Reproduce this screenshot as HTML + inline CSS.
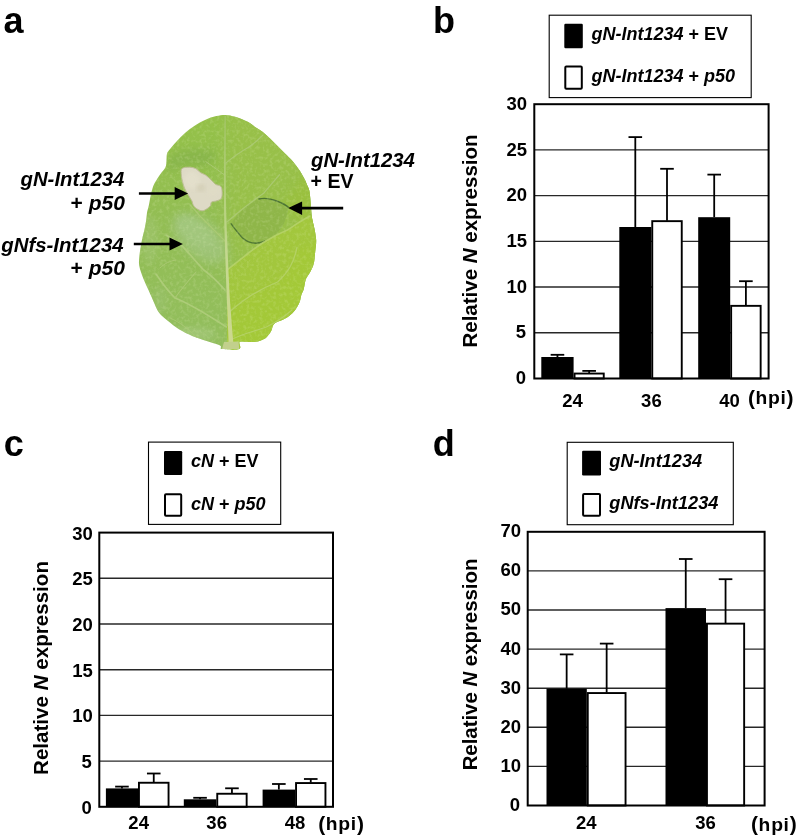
<!DOCTYPE html>
<html><head><meta charset="utf-8"><style>
html,body{margin:0;padding:0;background:#fff;}
svg{display:block;will-change:transform;font-family:"Liberation Sans", sans-serif;font-weight:bold;}
</style></head><body>
<svg width="799" height="836" viewBox="0 0 799 836">
<rect width="799" height="836" fill="#fff"/>
<text x="3.60" y="32.70" font-size="36" text-anchor="start" >a</text>
<text x="432.90" y="32.70" font-size="36" text-anchor="start" >b</text>
<text x="3.80" y="455.90" font-size="36" text-anchor="start" >c</text>
<text x="432.70" y="455.80" font-size="36" text-anchor="start" >d</text>
<defs>
<clipPath id="lc"><path d="M225.7,114.9 C228.8,115.0 231.4,115.7 235.1,116.8 C238.8,117.9 244.3,120.1 247.6,121.8 C250.9,123.5 252.5,125.2 255.0,126.9 C257.5,128.6 260.0,129.9 262.5,131.8 C265.0,133.7 267.5,136.1 270.0,138.5 C272.5,140.9 275.0,143.5 277.5,146.0 C280.0,148.5 282.5,151.0 285.0,153.5 C287.5,156.0 290.1,158.2 292.5,161.0 C294.9,163.8 297.3,167.0 299.3,170.0 C301.3,173.0 303.2,176.4 304.5,179.0 C305.8,181.6 306.5,183.4 307.3,185.5 C308.1,187.6 308.9,188.1 309.5,191.5 C310.1,194.9 310.5,201.6 310.9,205.9 C311.3,210.2 311.3,213.6 311.9,217.4 C312.5,221.2 313.8,225.1 314.5,228.9 C315.2,232.7 316.1,236.5 316.2,240.3 C316.3,244.1 315.6,248.0 315.2,251.8 C314.8,255.6 314.6,259.9 313.8,263.3 C313.0,266.7 311.5,269.4 310.2,272.0 C308.9,274.6 307.0,276.2 305.9,279.1 C304.8,282.0 304.5,286.6 303.7,289.2 C302.9,291.8 302.0,292.9 301.3,295.0 C300.6,297.1 300.6,299.5 299.6,302.0 C298.6,304.5 296.9,307.6 295.2,309.9 C293.4,312.2 291.3,314.3 289.1,316.0 C286.9,317.7 284.3,318.9 282.1,320.0 C279.9,321.1 277.4,321.7 275.9,322.6 C274.4,323.6 273.6,324.4 272.9,325.7 C272.2,326.9 272.3,328.7 271.6,330.1 C270.9,331.6 270.1,332.9 268.9,334.4 C267.7,335.8 266.4,337.6 264.5,338.8 C262.6,340.0 260.2,341.0 257.5,341.5 C254.8,342.0 251.0,341.9 248.0,342.0 C245.0,342.1 241.1,340.8 239.6,342.0 C238.1,343.2 242.1,347.8 239.2,349.0 C236.3,350.2 225.0,349.4 222.0,349.0 C219.0,348.6 221.7,347.2 221.0,346.5 C220.3,345.8 220.0,345.4 217.6,344.5 C215.2,343.6 210.7,342.4 206.6,341.0 C202.5,339.6 197.4,338.1 192.8,336.2 C188.2,334.2 183.1,331.8 179.0,329.3 C174.9,326.8 171.3,323.9 168.0,321.1 C164.7,318.4 161.4,315.8 159.1,312.8 C156.8,309.8 156.0,306.9 154.3,303.2 C152.6,299.5 150.6,294.9 148.8,290.8 C147.0,286.7 144.9,282.5 143.3,278.4 C141.7,274.3 140.0,269.6 139.3,266.0 C138.6,262.4 139.1,260.3 139.3,257.0 C139.6,253.7 140.2,249.5 140.8,246.2 C141.4,242.9 141.9,240.0 142.6,237.0 C143.3,234.0 144.2,230.8 144.8,228.0 C145.4,225.2 145.8,222.5 146.2,219.9 C146.6,217.3 146.6,215.1 147.0,212.7 C147.4,210.3 148.2,208.3 148.8,205.5 C149.4,202.7 150.0,198.7 150.6,195.9 C151.2,193.1 151.7,190.9 152.4,188.7 C153.1,186.5 153.5,185.2 154.8,182.8 C156.1,180.4 158.3,177.0 160.1,174.4 C161.9,171.8 164.4,169.6 165.5,167.2 C166.6,164.8 166.3,162.2 166.5,160.0 C166.7,157.8 166.5,155.9 166.9,154.3 C167.3,152.7 167.2,152.7 168.8,150.6 C170.4,148.5 173.6,144.7 176.3,141.8 C179.0,138.9 181.9,135.7 185.0,133.0 C188.1,130.3 191.7,127.7 195.0,125.5 C198.3,123.3 201.4,121.5 205.0,119.9 C208.6,118.3 212.9,116.9 216.3,116.1 C219.8,115.3 222.6,114.8 225.7,114.9Z"/></clipPath>
<filter id="bl2" x="-20%" y="-20%" width="140%" height="140%"><feGaussianBlur stdDeviation="2"/></filter>
<filter id="bl3" x="-30%" y="-30%" width="160%" height="160%"><feGaussianBlur stdDeviation="3"/></filter>
<filter id="bl5" x="-40%" y="-40%" width="180%" height="180%"><feGaussianBlur stdDeviation="5"/></filter>
<filter id="bl8" x="-40%" y="-40%" width="180%" height="180%"><feGaussianBlur stdDeviation="8"/></filter>
<filter id="bl1"><feGaussianBlur stdDeviation="0.6"/></filter>
<linearGradient id="lg" x1="0" y1="0" x2="0" y2="1"><stop offset="0" stop-color="#94c148"/><stop offset="0.45" stop-color="#93be54"/><stop offset="1" stop-color="#92be5e"/></linearGradient>
<linearGradient id="lime" x1="0" y1="0" x2="1" y2="1"><stop offset="0" stop-color="#a0c540"/><stop offset="1" stop-color="#a6ca3a"/></linearGradient>
</defs>
<path d="M225.7,114.9 C228.8,115.0 231.4,115.7 235.1,116.8 C238.8,117.9 244.3,120.1 247.6,121.8 C250.9,123.5 252.5,125.2 255.0,126.9 C257.5,128.6 260.0,129.9 262.5,131.8 C265.0,133.7 267.5,136.1 270.0,138.5 C272.5,140.9 275.0,143.5 277.5,146.0 C280.0,148.5 282.5,151.0 285.0,153.5 C287.5,156.0 290.1,158.2 292.5,161.0 C294.9,163.8 297.3,167.0 299.3,170.0 C301.3,173.0 303.2,176.4 304.5,179.0 C305.8,181.6 306.5,183.4 307.3,185.5 C308.1,187.6 308.9,188.1 309.5,191.5 C310.1,194.9 310.5,201.6 310.9,205.9 C311.3,210.2 311.3,213.6 311.9,217.4 C312.5,221.2 313.8,225.1 314.5,228.9 C315.2,232.7 316.1,236.5 316.2,240.3 C316.3,244.1 315.6,248.0 315.2,251.8 C314.8,255.6 314.6,259.9 313.8,263.3 C313.0,266.7 311.5,269.4 310.2,272.0 C308.9,274.6 307.0,276.2 305.9,279.1 C304.8,282.0 304.5,286.6 303.7,289.2 C302.9,291.8 302.0,292.9 301.3,295.0 C300.6,297.1 300.6,299.5 299.6,302.0 C298.6,304.5 296.9,307.6 295.2,309.9 C293.4,312.2 291.3,314.3 289.1,316.0 C286.9,317.7 284.3,318.9 282.1,320.0 C279.9,321.1 277.4,321.7 275.9,322.6 C274.4,323.6 273.6,324.4 272.9,325.7 C272.2,326.9 272.3,328.7 271.6,330.1 C270.9,331.6 270.1,332.9 268.9,334.4 C267.7,335.8 266.4,337.6 264.5,338.8 C262.6,340.0 260.2,341.0 257.5,341.5 C254.8,342.0 251.0,341.9 248.0,342.0 C245.0,342.1 241.1,340.8 239.6,342.0 C238.1,343.2 242.1,347.8 239.2,349.0 C236.3,350.2 225.0,349.4 222.0,349.0 C219.0,348.6 221.7,347.2 221.0,346.5 C220.3,345.8 220.0,345.4 217.6,344.5 C215.2,343.6 210.7,342.4 206.6,341.0 C202.5,339.6 197.4,338.1 192.8,336.2 C188.2,334.2 183.1,331.8 179.0,329.3 C174.9,326.8 171.3,323.9 168.0,321.1 C164.7,318.4 161.4,315.8 159.1,312.8 C156.8,309.8 156.0,306.9 154.3,303.2 C152.6,299.5 150.6,294.9 148.8,290.8 C147.0,286.7 144.9,282.5 143.3,278.4 C141.7,274.3 140.0,269.6 139.3,266.0 C138.6,262.4 139.1,260.3 139.3,257.0 C139.6,253.7 140.2,249.5 140.8,246.2 C141.4,242.9 141.9,240.0 142.6,237.0 C143.3,234.0 144.2,230.8 144.8,228.0 C145.4,225.2 145.8,222.5 146.2,219.9 C146.6,217.3 146.6,215.1 147.0,212.7 C147.4,210.3 148.2,208.3 148.8,205.5 C149.4,202.7 150.0,198.7 150.6,195.9 C151.2,193.1 151.7,190.9 152.4,188.7 C153.1,186.5 153.5,185.2 154.8,182.8 C156.1,180.4 158.3,177.0 160.1,174.4 C161.9,171.8 164.4,169.6 165.5,167.2 C166.6,164.8 166.3,162.2 166.5,160.0 C166.7,157.8 166.5,155.9 166.9,154.3 C167.3,152.7 167.2,152.7 168.8,150.6 C170.4,148.5 173.6,144.7 176.3,141.8 C179.0,138.9 181.9,135.7 185.0,133.0 C188.1,130.3 191.7,127.7 195.0,125.5 C198.3,123.3 201.4,121.5 205.0,119.9 C208.6,118.3 212.9,116.9 216.3,116.1 C219.8,115.3 222.6,114.8 225.7,114.9Z" fill="url(#lg)"/>
<g clip-path="url(#lc)">
<path d="M228,110 L320,110 L320,230 L228,270Z" fill="#98c04a" filter="url(#bl8)"/>
<path d="M168,158 C180,148 200,146 215,152 C218,160 210,166 200,166 C188,166 176,168 168,172Z" fill="#7eac48" opacity="0.45" filter="url(#bl3)"/>
<ellipse cx="150" cy="240" rx="8" ry="24" fill="#a3c676" opacity="0.5" filter="url(#bl3)"/>
<ellipse cx="192" cy="334" rx="24" ry="7" fill="#aacb84" opacity="0.55" filter="url(#bl3)"/>
<ellipse cx="160" cy="300" rx="8" ry="14" fill="#a0c47a" opacity="0.35" filter="url(#bl3)"/>
<ellipse cx="0" cy="0" rx="33" ry="18" transform="translate(200,238) rotate(40)" fill="#a0c57c" opacity="0.85" filter="url(#bl5)"/>
<ellipse cx="0" cy="0" rx="22" ry="10" transform="translate(196,232) rotate(40)" fill="#a6ca84" opacity="0.5" filter="url(#bl3)"/>
<path d="M286,200 C294,190 300,182 304,172 L322,172 L322,226 L300,226 C295,216 291,210 286,205Z" fill="#9ac03e" opacity="0.9" filter="url(#bl5)"/>
<path d="M227,270 C238,262 250,251 262.6,243 C272,237 280,233 287.4,230 C295,225 302,220 320,212 L330,212 L330,360 L227,360Z" fill="url(#lime)" filter="url(#bl1)"/>
<path d="M229.5,312 C245,298 262,288 277.6,282 C288.9,271.6 294,262 297,247.5 L330,240 L330,360 L229.5,360Z" fill="#a4c936" opacity="0.5" filter="url(#bl3)"/>
<path d="M230.8,223.4 C238,214 248,203 258.4,199 C266,197.5 272,199 276.8,201 C282,203 286,205 288.7,207.6 C287,215 285.5,220 283.4,224.7 C280,230 276,235 271.6,237.9 C266,241 261,243 255.8,243.2 C250,243 246,241 242.6,237.9 C238.5,234 235,229 230.8,223.4Z" fill="#8fb64a" filter="url(#bl1)"/>
<path d="M258.4,199 C266,197.5 272,199 276.8,201 C282,203 286,205 288.7,207.6" fill="none" stroke="#4c7432" stroke-width="1.4" filter="url(#bl1)"/>
<path d="M230.8,223.4 C235,229 238.5,234 242.6,237.9 C246,241 250,243 255.8,243.2 C259,243 262,242.5 265,241" fill="none" stroke="#4c7432" stroke-width="1.4" filter="url(#bl1)" opacity="0.95"/>
<filter id="tex" x="0" y="0" width="100%" height="100%"><feTurbulence type="fractalNoise" baseFrequency="0.3" numOctaves="2" seed="7" result="n"/><feColorMatrix in="n" type="matrix" values="0 0 0 0 0.85  0 0 0 0 0.95  0 0 0 0 0.6  0 0 0 3.2 -1.45"/></filter>
<rect x="135" y="110" width="185" height="245" filter="url(#tex)" opacity="0.15"/>
<g stroke="#acca76" fill="none" stroke-linecap="round" filter="url(#bl1)" opacity="0.9">
<path d="M226.8,222 C236,214 245,206 263.7,193.2 C270,186 275,180 279.5,174.7" stroke-width="1.3"/>
<path d="M227,270 C238,262 250,251 262.6,243 C272,237 280,233 287.4,230 C295,225 302,220 310,216" stroke-width="1.6" stroke="#b6d26a"/>
<path d="M229.5,312 C245,298 262,288 277.6,282 C288.9,271.6 294,262 297,247.5" stroke-width="1.3" stroke="#b6d26a"/>
<path d="M230.5,340 C242,334 255,331 266.3,327 C275,323 285,316 292,310" stroke-width="1.1" stroke="#b6d26a"/>
<path d="M224.5,164 C232,158 240,152 249,147 C255,143 259,139 263,135" stroke-width="1.1"/>
<path d="M224.9,290 C218,282 212,276 203.8,270 C196,262 190,254 182.1,245.8 C176,241 171,238 166.3,235.3" stroke-width="1.7" stroke="#b0ce7c"/>
<path d="M226.5,327 C212,318 195,306 175,298 C168,291 162,283 156,274" stroke-width="1.6" stroke="#b0ce7c"/>
<path d="M175,298 C182,288 189,280 196,272" stroke-width="1.1"/>
<path d="M160,268 C165,263 170,261 176,260" stroke-width="1"/>
<path d="M226,242 C217,233 208,224 199,215 C196,211 193,208 190,205" stroke-width="1.3"/>
<path d="M224.2,174.7 C218,170 212,166 205.8,161.6" stroke-width="1"/>
<path d="M199,340 C190,330 180,322 170,318" stroke-width="0.9"/>
</g>
<linearGradient id="mrg" x1="0" y1="0" x2="0" y2="1" gradientUnits="objectBoundingBox"><stop offset="0" stop-color="#a2c466"/><stop offset="0.35" stop-color="#b4d07c"/><stop offset="0.6" stop-color="#c4d890"/><stop offset="1" stop-color="#cdd88e"/></linearGradient>
<path d="M224.55,116.00 L224.24,140.00 L224.05,160.00 L223.92,190.00 L224.03,210.00 L224.44,230.00 L225.05,250.00 L225.76,270.00 L226.47,290.00 L227.10,305.00 L227.74,320.00 L228.33,335.00 L228.80,349.00 L233.80,349.00 L232.67,335.00 L231.46,320.00 L230.30,305.00 L229.33,290.00 L228.44,270.00 L227.55,250.00 L226.76,230.00 L226.17,210.00 L225.88,190.00 L225.75,160.00 L225.76,140.00 L225.85,116.00Z" fill="url(#mrg)" filter="url(#bl1)"/>
<path d="M224,342 L238.5,341.5 L239.3,349 L222,349Z" fill="#c2d08c" filter="url(#bl1)"/>
<path d="M181.9,168.6 C183.2,167.3 186.9,167.2 189.2,167.2 C191.5,167.2 193.8,167.7 195.7,168.6 C197.5,169.5 198.7,171.4 200.3,172.5 C202.0,173.6 203.8,173.9 205.6,175.1 C207.4,176.3 209.2,178.2 210.9,179.7 C212.6,181.2 213.9,183.2 215.5,184.3 C217.1,185.4 219.6,185.1 220.7,186.3 C221.8,187.5 222.0,189.6 222.1,191.6 C222.2,193.6 222.3,196.7 221.4,198.2 C220.5,199.7 218.5,200.2 216.8,200.8 C215.2,201.5 212.6,201.2 211.5,202.1 C210.4,203.0 211.3,204.8 210.2,206.1 C209.1,207.4 206.4,209.2 204.9,210.0 C203.4,210.8 202.5,211.0 201.0,210.7 C199.5,210.4 197.0,209.0 195.7,208.0 C194.4,207.0 193.8,205.9 193.1,204.7 C192.4,203.5 192.7,202.6 191.8,200.8 C190.9,199.1 189.0,196.3 187.8,194.2 C186.6,192.1 185.5,190.4 184.6,188.3 C183.7,186.2 183.1,183.9 182.6,181.7 C182.1,179.5 181.4,177.3 181.3,175.1 C181.2,172.9 180.6,169.9 181.9,168.6Z" fill="#dedac6" stroke="#bcbc94" stroke-width="1" filter="url(#bl1)"/>
<ellipse cx="192" cy="180" rx="8" ry="9" fill="#e4e0cc" opacity="0.8" filter="url(#bl2)"/>
<ellipse cx="213" cy="192" rx="6" ry="5" fill="#e0dcc6" opacity="0.7" filter="url(#bl2)"/>
<ellipse cx="201" cy="188" rx="4" ry="3.5" fill="#cac4a8" opacity="0.5" filter="url(#bl2)"/>
</g>
<line x1="138.90" y1="193.50" x2="176.00" y2="193.50" stroke="#000" stroke-width="2.7"/>
<path d="M174.7,187 L188.1,193.5 L174.7,200Z" fill="#000"/>
<line x1="133.80" y1="244.00" x2="171.00" y2="244.00" stroke="#000" stroke-width="2.7"/>
<path d="M169.5,237.6 L182.9,244 L169.5,250.5Z" fill="#000"/>
<line x1="300.00" y1="208.10" x2="343.20" y2="208.10" stroke="#000" stroke-width="2.7"/>
<path d="M302.1,201.4 L288.2,208.1 L302.1,214.9Z" fill="#000"/>
<text transform="translate(124.40,186.40) scale(1.016,1)" font-size="20" text-anchor="end" ><tspan font-style="italic">gN-Int1234</tspan></text>
<text transform="translate(124.90,209.60) scale(1.05,1)" font-size="20" text-anchor="end" >+ <tspan font-style="italic">p50</tspan></text>
<text transform="translate(123.60,252.20) scale(1.02,1)" font-size="20" text-anchor="end" ><tspan font-style="italic">gNfs-Int1234</tspan></text>
<text transform="translate(124.90,275.00) scale(1.05,1)" font-size="20" text-anchor="end" >+ <tspan font-style="italic">p50</tspan></text>
<text transform="translate(311.00,166.50) scale(1.016,1)" font-size="20" text-anchor="start" ><tspan font-style="italic">gN-Int1234</tspan></text>
<text transform="translate(310.60,187.80) scale(0.977,1)" font-size="20" text-anchor="start" >+ EV</text>
<rect x="549.20" y="15.20" width="202.00" height="82.40" fill="#fff" stroke="#000" stroke-width="1.1"/>
<rect x="564.30" y="23.80" width="18.50" height="24.50" rx="1.2" fill="#000"/>
<rect x="565.30" y="66.60" width="16.50" height="22.20" rx="1" fill="#fff" stroke="#000" stroke-width="2"/>
<text x="591.50" y="40.20" font-size="18" text-anchor="start" ><tspan font-style="italic">gN-Int1234</tspan> + EV</text>
<text x="591.50" y="82.10" font-size="18" text-anchor="start" ><tspan font-style="italic">gN-Int1234</tspan> + <tspan font-style="italic">p50</tspan></text>
<line x1="534.30" y1="332.78" x2="768.60" y2="332.78" stroke="#282828" stroke-width="1.4"/>
<line x1="534.30" y1="287.07" x2="768.60" y2="287.07" stroke="#282828" stroke-width="1.4"/>
<line x1="534.30" y1="241.35" x2="768.60" y2="241.35" stroke="#282828" stroke-width="1.4"/>
<line x1="534.30" y1="195.63" x2="768.60" y2="195.63" stroke="#282828" stroke-width="1.4"/>
<line x1="534.30" y1="149.92" x2="768.60" y2="149.92" stroke="#282828" stroke-width="1.4"/>
<line x1="557.45" y1="354.80" x2="557.45" y2="357.00" stroke="#000" stroke-width="1.8"/>
<line x1="550.65" y1="354.80" x2="564.25" y2="354.80" stroke="#000" stroke-width="1.8"/>
<rect x="541.30" y="357.00" width="32.30" height="21.50" fill="#000"/>
<line x1="589.15" y1="370.90" x2="589.15" y2="373.10" stroke="#000" stroke-width="1.8"/>
<line x1="582.35" y1="370.90" x2="595.95" y2="370.90" stroke="#000" stroke-width="1.8"/>
<rect x="574.55" y="373.55" width="29.20" height="4.95" fill="#fff" stroke="#000" stroke-width="1.9"/>
<line x1="635.30" y1="137.10" x2="635.30" y2="227.00" stroke="#000" stroke-width="1.8"/>
<line x1="628.50" y1="137.10" x2="642.10" y2="137.10" stroke="#000" stroke-width="1.8"/>
<rect x="619.30" y="227.00" width="32.00" height="151.50" fill="#000"/>
<line x1="667.00" y1="168.80" x2="667.00" y2="220.70" stroke="#000" stroke-width="1.8"/>
<line x1="660.20" y1="168.80" x2="673.80" y2="168.80" stroke="#000" stroke-width="1.8"/>
<rect x="652.25" y="221.15" width="29.50" height="157.35" fill="#fff" stroke="#000" stroke-width="1.9"/>
<line x1="714.20" y1="174.60" x2="714.20" y2="217.20" stroke="#000" stroke-width="1.8"/>
<line x1="707.40" y1="174.60" x2="721.00" y2="174.60" stroke="#000" stroke-width="1.8"/>
<rect x="698.20" y="217.20" width="32.00" height="161.30" fill="#000"/>
<line x1="745.90" y1="281.20" x2="745.90" y2="305.40" stroke="#000" stroke-width="1.8"/>
<line x1="739.10" y1="281.20" x2="752.70" y2="281.20" stroke="#000" stroke-width="1.8"/>
<rect x="731.15" y="305.85" width="29.50" height="72.65" fill="#fff" stroke="#000" stroke-width="1.9"/>
<rect x="534.30" y="104.20" width="234.30" height="274.30" fill="none" stroke="#000" stroke-width="2"/>
<text x="526.00" y="384.10" font-size="18.5" text-anchor="end" >0</text>
<text x="526.00" y="338.38" font-size="18.5" text-anchor="end" >5</text>
<text x="527.00" y="292.67" font-size="18.5" text-anchor="end" >10</text>
<text x="527.00" y="246.95" font-size="18.5" text-anchor="end" >15</text>
<text x="527.00" y="201.23" font-size="18.5" text-anchor="end" >20</text>
<text x="527.00" y="155.52" font-size="18.5" text-anchor="end" >25</text>
<text x="527.00" y="109.80" font-size="18.5" text-anchor="end" >30</text>
<text x="572.60" y="406.50" font-size="18.5" text-anchor="middle" >24</text>
<text x="651.40" y="406.50" font-size="18.5" text-anchor="middle" >36</text>
<text x="729.50" y="406.50" font-size="18.5" text-anchor="middle" >40</text>
<text x="747.90" y="405.10" font-size="21" text-anchor="start" >(</text>
<text transform="translate(755.40,403.90) scale(1.05,1)" font-size="18.3" text-anchor="start" >h</text>
<text transform="translate(768.00,403.90) scale(1.06,1)" font-size="18.3" text-anchor="start" >p</text>
<text transform="translate(780.40,403.90) scale(1.05,1)" font-size="18.3" text-anchor="start" >i</text>
<text x="786.60" y="405.10" font-size="21" text-anchor="start" >)</text>
<text transform="translate(477.20,241.00) rotate(-90) scale(1.0106,1)" font-size="20.3" text-anchor="middle">Relative <tspan font-style="italic">N</tspan> expression</text>
<rect x="148.50" y="442.10" width="132.20" height="82.30" fill="#fff" stroke="#000" stroke-width="1.1"/>
<rect x="164.00" y="451.00" width="18.20" height="24.00" rx="1.2" fill="#000"/>
<rect x="165.00" y="494.20" width="16.20" height="21.50" rx="1" fill="#fff" stroke="#000" stroke-width="2"/>
<text x="191.00" y="466.80" font-size="18" text-anchor="start" ><tspan font-style="italic">cN</tspan> + EV</text>
<text x="191.00" y="509.80" font-size="18" text-anchor="start" ><tspan font-style="italic">cN</tspan> + <tspan font-style="italic">p50</tspan></text>
<line x1="99.30" y1="761.10" x2="333.00" y2="761.10" stroke="#282828" stroke-width="1.4"/>
<line x1="99.30" y1="715.40" x2="333.00" y2="715.40" stroke="#282828" stroke-width="1.4"/>
<line x1="99.30" y1="669.70" x2="333.00" y2="669.70" stroke="#282828" stroke-width="1.4"/>
<line x1="99.30" y1="624.00" x2="333.00" y2="624.00" stroke="#282828" stroke-width="1.4"/>
<line x1="99.30" y1="578.30" x2="333.00" y2="578.30" stroke="#282828" stroke-width="1.4"/>
<line x1="121.95" y1="786.60" x2="121.95" y2="788.40" stroke="#000" stroke-width="1.8"/>
<line x1="115.15" y1="786.60" x2="128.75" y2="786.60" stroke="#000" stroke-width="1.8"/>
<rect x="105.90" y="788.40" width="32.10" height="18.40" fill="#000"/>
<line x1="153.75" y1="773.50" x2="153.75" y2="782.30" stroke="#000" stroke-width="1.8"/>
<line x1="146.95" y1="773.50" x2="160.55" y2="773.50" stroke="#000" stroke-width="1.8"/>
<rect x="138.95" y="782.75" width="29.60" height="24.05" fill="#fff" stroke="#000" stroke-width="1.9"/>
<line x1="200.05" y1="797.80" x2="200.05" y2="799.30" stroke="#000" stroke-width="1.8"/>
<line x1="193.25" y1="797.80" x2="206.85" y2="797.80" stroke="#000" stroke-width="1.8"/>
<rect x="183.80" y="799.30" width="32.50" height="7.50" fill="#000"/>
<line x1="231.95" y1="788.30" x2="231.95" y2="793.30" stroke="#000" stroke-width="1.8"/>
<line x1="225.15" y1="788.30" x2="238.75" y2="788.30" stroke="#000" stroke-width="1.8"/>
<rect x="217.25" y="793.75" width="29.40" height="13.05" fill="#fff" stroke="#000" stroke-width="1.9"/>
<line x1="278.85" y1="784.00" x2="278.85" y2="789.60" stroke="#000" stroke-width="1.8"/>
<line x1="272.05" y1="784.00" x2="285.65" y2="784.00" stroke="#000" stroke-width="1.8"/>
<rect x="262.60" y="789.60" width="32.50" height="17.20" fill="#000"/>
<line x1="310.75" y1="779.00" x2="310.75" y2="782.60" stroke="#000" stroke-width="1.8"/>
<line x1="303.95" y1="779.00" x2="317.55" y2="779.00" stroke="#000" stroke-width="1.8"/>
<rect x="296.05" y="783.05" width="29.40" height="23.75" fill="#fff" stroke="#000" stroke-width="1.9"/>
<rect x="99.30" y="532.60" width="233.70" height="274.20" fill="none" stroke="#000" stroke-width="2"/>
<text x="91.80" y="813.70" font-size="18.5" text-anchor="end" >0</text>
<text x="91.80" y="768.00" font-size="18.5" text-anchor="end" >5</text>
<text x="92.80" y="722.30" font-size="18.5" text-anchor="end" >10</text>
<text x="92.80" y="676.60" font-size="18.5" text-anchor="end" >15</text>
<text x="92.80" y="630.90" font-size="18.5" text-anchor="end" >20</text>
<text x="92.80" y="585.20" font-size="18.5" text-anchor="end" >25</text>
<text x="92.80" y="539.50" font-size="18.5" text-anchor="end" >30</text>
<text x="138.65" y="828.60" font-size="18.5" text-anchor="middle" >24</text>
<text x="216.65" y="828.60" font-size="18.5" text-anchor="middle" >36</text>
<text x="295.10" y="828.60" font-size="18.5" text-anchor="middle" >48</text>
<text x="318.20" y="831.00" font-size="21" text-anchor="start" >(</text>
<text transform="translate(325.70,829.60) scale(1.05,1)" font-size="18.3" text-anchor="start" >h</text>
<text transform="translate(338.30,829.60) scale(1.06,1)" font-size="18.3" text-anchor="start" >p</text>
<text transform="translate(350.70,829.60) scale(1.05,1)" font-size="18.3" text-anchor="start" >i</text>
<text x="356.90" y="831.00" font-size="21" text-anchor="start" >)</text>
<text transform="translate(48.30,668.00) rotate(-90) scale(1.014,1)" font-size="20.3" text-anchor="middle">Relative <tspan font-style="italic">N</tspan> expression</text>
<rect x="567.20" y="442.30" width="166.10" height="82.40" fill="#fff" stroke="#000" stroke-width="1.1"/>
<rect x="582.10" y="450.80" width="18.90" height="24.70" rx="1.2" fill="#000"/>
<rect x="583.10" y="494.10" width="16.90" height="21.70" rx="1" fill="#fff" stroke="#000" stroke-width="2"/>
<text transform="translate(609.30,467.00) scale(1.01,1)" font-size="18" text-anchor="start" ><tspan font-style="italic">gN-Int1234</tspan></text>
<text transform="translate(609.30,509.10) scale(1.01,1)" font-size="18" text-anchor="start" ><tspan font-style="italic">gNfs-Int1234</tspan></text>
<line x1="527.70" y1="766.40" x2="764.60" y2="766.40" stroke="#282828" stroke-width="1.4"/>
<line x1="527.70" y1="727.30" x2="764.60" y2="727.30" stroke="#282828" stroke-width="1.4"/>
<line x1="527.70" y1="688.20" x2="764.60" y2="688.20" stroke="#282828" stroke-width="1.4"/>
<line x1="527.70" y1="649.10" x2="764.60" y2="649.10" stroke="#282828" stroke-width="1.4"/>
<line x1="527.70" y1="610.00" x2="764.60" y2="610.00" stroke="#282828" stroke-width="1.4"/>
<line x1="527.70" y1="570.90" x2="764.60" y2="570.90" stroke="#282828" stroke-width="1.4"/>
<line x1="566.65" y1="654.40" x2="566.65" y2="688.70" stroke="#000" stroke-width="1.8"/>
<line x1="559.85" y1="654.40" x2="573.45" y2="654.40" stroke="#000" stroke-width="1.8"/>
<rect x="546.50" y="688.70" width="40.30" height="116.80" fill="#000"/>
<line x1="606.65" y1="643.60" x2="606.65" y2="692.60" stroke="#000" stroke-width="1.8"/>
<line x1="599.85" y1="643.60" x2="613.45" y2="643.60" stroke="#000" stroke-width="1.8"/>
<rect x="587.75" y="693.05" width="37.80" height="112.45" fill="#fff" stroke="#000" stroke-width="1.9"/>
<line x1="685.75" y1="559.00" x2="685.75" y2="608.10" stroke="#000" stroke-width="1.8"/>
<line x1="678.95" y1="559.00" x2="692.55" y2="559.00" stroke="#000" stroke-width="1.8"/>
<rect x="665.50" y="608.10" width="40.50" height="197.40" fill="#000"/>
<line x1="725.55" y1="579.20" x2="725.55" y2="623.20" stroke="#000" stroke-width="1.8"/>
<line x1="718.75" y1="579.20" x2="732.35" y2="579.20" stroke="#000" stroke-width="1.8"/>
<rect x="706.95" y="623.65" width="37.20" height="181.85" fill="#fff" stroke="#000" stroke-width="1.9"/>
<rect x="527.70" y="531.80" width="236.90" height="273.70" fill="none" stroke="#000" stroke-width="2"/>
<text x="520.00" y="810.90" font-size="18.5" text-anchor="end" >0</text>
<text x="521.00" y="771.80" font-size="18.5" text-anchor="end" >10</text>
<text x="521.00" y="732.70" font-size="18.5" text-anchor="end" >20</text>
<text x="521.00" y="693.60" font-size="18.5" text-anchor="end" >30</text>
<text x="521.00" y="654.50" font-size="18.5" text-anchor="end" >40</text>
<text x="521.00" y="615.40" font-size="18.5" text-anchor="end" >50</text>
<text x="521.00" y="576.30" font-size="18.5" text-anchor="end" >60</text>
<text x="521.00" y="537.20" font-size="18.5" text-anchor="end" >70</text>
<text x="586.35" y="828.60" font-size="18.5" text-anchor="middle" >24</text>
<text x="705.45" y="828.60" font-size="18.5" text-anchor="middle" >36</text>
<text x="751.10" y="831.30" font-size="21" text-anchor="start" >(</text>
<text transform="translate(758.60,830.50) scale(1.05,1)" font-size="18.3" text-anchor="start" >h</text>
<text transform="translate(771.20,830.50) scale(1.06,1)" font-size="18.3" text-anchor="start" >p</text>
<text transform="translate(783.60,830.50) scale(1.05,1)" font-size="18.3" text-anchor="start" >i</text>
<text x="789.80" y="831.30" font-size="21" text-anchor="start" >)</text>
<text transform="translate(477.00,664.50) rotate(-90) scale(1.004,1)" font-size="20.3" text-anchor="middle">Relative <tspan font-style="italic">N</tspan> expression</text>
</svg>
</body></html>
